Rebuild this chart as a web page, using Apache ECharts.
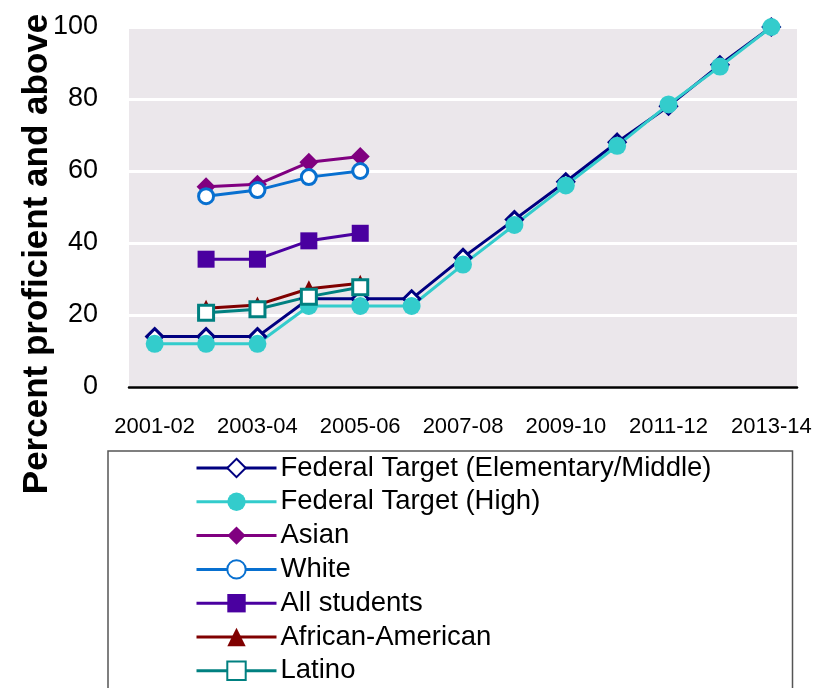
<!DOCTYPE html>
<html>
<head>
<meta charset="utf-8">
<script src="https://cdn.jsdelivr.net/npm/echarts@6/dist/echarts.min.js"></script>
<style>
html, body { margin: 0; padding: 0; background: #fff; }
#chart { width: 833px; height: 688px; }
</style>
</head>
<body>
<div id="chart"></div>
<script>
var years = ['2001-02', '2002-03', '2003-04', '2004-05', '2005-06', '2006-07', '2007-08',
    '2008-09', '2009-10', '2010-11', '2011-12', '2012-13', '2013-14'];

var targetElem = [14, 14, 14, 24.5, 24.5, 24.5, 36, 46.5, 57, 68, 78, 89.5, 100];
var targetHigh = [12, 12, 12, 22.5, 22.5, 22.5, 34, 45, 56, 67, 78.5, 89, 100];
var asian = [null, 55.6, 56.3, 62.4, 64];
var white = [null, 53, 54.7, 58.3, 60];
var allStudents = [null, 35.5, 35.5, 40.6, 42.7];
var africanAmerican = [null, 21.9, 22.8, 27.3, 28.8];
var latino = [null, 20.6, 21.6, 25.1, 27.7];

var yTicks = [0, 20, 40, 60, 80, 100];

function lineSeries(name, data, color, symbol, hollow, size) {
    return {
        name: name,
        type: 'line',
        data: data,
        symbol: symbol,
        symbolSize: size,
        connectNulls: false,
        lineStyle: { color: color, width: 3 },
        itemStyle: hollow
            ? { color: '#fff', borderColor: color, borderWidth: 3 }
            : { color: color, borderWidth: 0 },
        emphasis: { disabled: true }
    };
}

var chart = echarts.init(document.getElementById('chart'));
var option = {
    animation: false,
    backgroundColor: '#fff',
    grid: {
        left: 129, right: 36, top: 27, bottom: 301,
        show: true,
        backgroundColor: '#ebe7eb',
        borderWidth: 0
    },
    xAxis: {
        type: 'category',
        data: years,
        boundaryGap: true,
        axisLine: { lineStyle: { color: '#000', width: 2.5 } },
        axisTick: { inside: true, length: 9, lineStyle: { color: '#000', width: 2 } },
        axisLabel: {
            interval: 1,
            margin: 29,
            color: '#000',
            fontFamily: 'Liberation Sans, Arial, sans-serif',
            fontSize: 22
        },
        splitLine: { show: false }
    },
    yAxis: {
        type: 'value',
        min: yTicks[0],
        max: yTicks[yTicks.length - 1],
        interval: 20,
        axisLine: { show: false },
        axisTick: { show: false },
        axisLabel: {
            margin: 31,
            color: '#000',
            fontFamily: 'Liberation Sans, Arial, sans-serif',
            fontSize: 27,
            padding: [0, 0, 11, 0]
        },
        splitLine: { lineStyle: { color: '#fff', width: 3 } }
    },
    legend: {
        orient: 'vertical',
        left: 108,
        top: 451,
        height: 280,
        padding: [3, 80, 20, 87],
        borderColor: '#555',
        borderWidth: 1.5,
        itemWidth: 80,
        itemHeight: 23,
        itemGap: 5.8,
        selectedMode: false,
        lineStyle: { width: 3 },
        textStyle: {
            color: '#000',
            fontFamily: 'Liberation Sans, Arial, sans-serif',
            fontSize: 27.5,
            lineHeight: 28,
            width: 432,
            padding: [0, 0, 0, -1]
        }
    },
    graphic: [{
        type: 'text',
        x: 37,
        y: 254,
        rotation: Math.PI / 2,
        style: {
            text: 'Percent proficient and above',
            fill: '#000',
            font: 'bold 35px "Liberation Sans", Arial, sans-serif',
            align: 'center',
            verticalAlign: 'middle'
        }
    }],
    series: [
        lineSeries('Federal Target (Elementary/Middle)', targetElem, '#000080', 'diamond', true, 16),
        lineSeries('Federal Target (High)', targetHigh, '#33cccc', 'circle', false, 18),
        lineSeries('Asian', asian, '#800080', 'diamond', false, 19),
        lineSeries('White', white, '#0870d0', 'circle', true, 15),
        lineSeries('All students', allStudents, '#4a00a0', 'rect', false, 17),
        lineSeries('African-American', africanAmerican, '#800000', 'triangle', false, 17),
        lineSeries('Latino', latino, '#008080', 'rect', true, 15)
    ]
};
chart.setOption(option);
</script>
</body>
</html>
